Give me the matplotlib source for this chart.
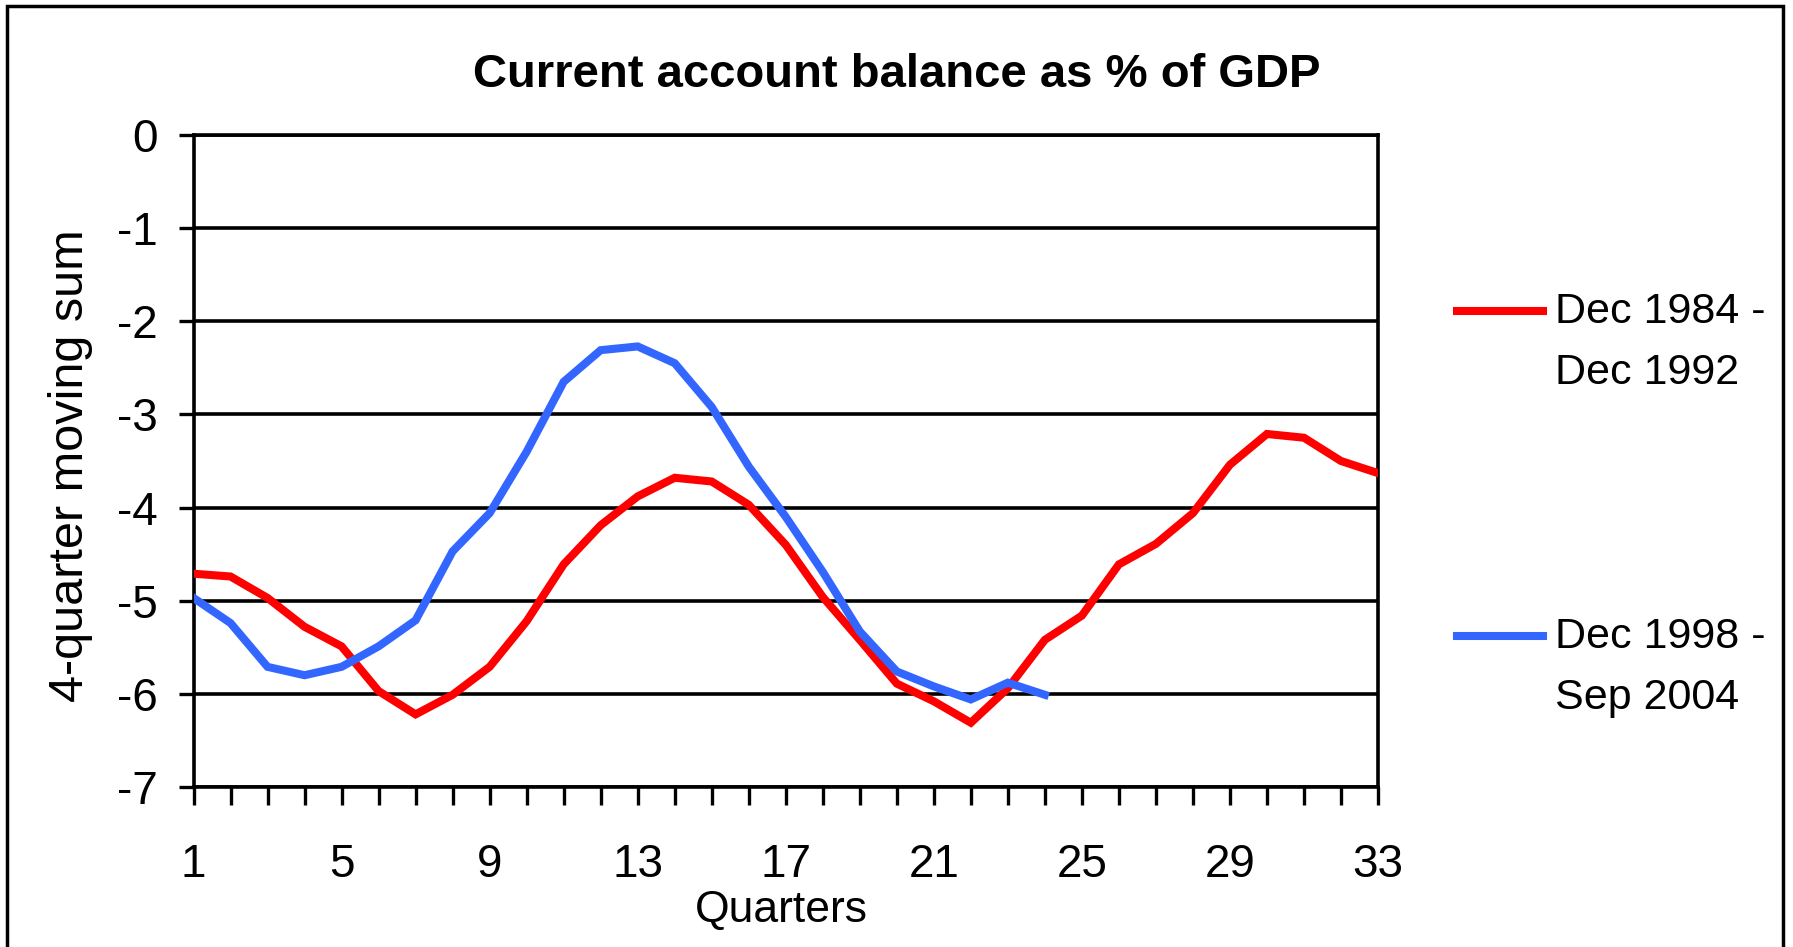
import numpy as np
import matplotlib
matplotlib.use("Agg")
import matplotlib.pyplot as plt
from matplotlib.lines import Line2D
from matplotlib.patches import Rectangle

plt.rcParams['font.family'] = ['Liberation Sans', 'DejaVu Sans']

# quarters and series
quarters = np.arange(1, 34)
red_vals = [-4.71, -4.74, -4.97, -5.28, -5.49, -5.97, -6.22, -6.01, -5.71, -5.22,
            -4.61, -4.19, -3.88, -3.68, -3.72, -3.97, -4.40, -4.96, -5.42, -5.89,
            -6.08, -6.31, -5.94, -5.42, -5.16, -4.61, -4.39, -4.06, -3.54, -3.21,
            -3.25, -3.50, -3.63]
blue_vals = [-4.97, -5.24, -5.71, -5.80, -5.71, -5.49, -5.21, -4.47, -4.06, -3.40,
             -2.65, -2.31, -2.27, -2.45, -2.92, -3.56, -4.10, -4.69, -5.33, -5.76,
             -5.92, -6.06, -5.88, -6.01]
labels = ["Dec 1984 -\nDec 1992", "Dec 1998 -\nSep 2004"]
colors = ["#FF0000", "#3366FF"]
xtick_labels = [1, 5, 9, 13, 17, 21, 25, 29, 33]
ytick_vals = [0, -1, -2, -3, -4, -5, -6, -7]

W, H = 1793, 947
fig = plt.figure(figsize=(W / 100, H / 100), dpi=100)
ax = fig.add_axes([193.5 / W, 1 - 787 / H, (1378 - 193.5) / W, (787 - 135) / H])

series = [red_vals, blue_vals]
for vals, c in zip(series, colors):
    ax.plot(quarters[:len(vals)], vals, color=c, lw=5.8, solid_joinstyle='miter', zorder=3)

ax.set_xlim(1, 33)
ax.set_ylim(-7, 0)
ax.set_xticks(quarters)
ax.set_xticklabels([str(q) if q in xtick_labels else "" for q in quarters])
ax.set_yticks(ytick_vals)
ax.set_yticklabels([str(v) for v in ytick_vals])
ax.tick_params(axis='x', direction='out', length=13, width=2.4, pad=27, labelsize=33)
ax.tick_params(axis='y', direction='out', length=10.5, width=2.4, pad=15, labelsize=33)
ax.grid(axis='y', color='black', lw=2.6, zorder=1)
for s in ax.spines.values():
    s.set_linewidth(2.6)
    s.set_color('black')

fig.text(0.5, 1 - 75 / H, "Current account balance as % of GDP", ha='center', va='center',
         fontsize=34, fontweight='bold')
fig.text(71 / W, 1 - 466 / H, "4-quarter moving sum", rotation=90, ha='center', va='center',
         fontsize=35)
fig.text(781 / W, 1 - 910 / H, "Quarters", ha='center', va='center', fontsize=32)

# legend drawn by hand: handle aligned with first text line
leg_y = [311, 636]
for lab, c, y in zip(labels, colors, leg_y):
    fig.add_artist(Line2D([1457 / W, 1543 / W], [1 - y / H, 1 - y / H], color=c, lw=5.8,
                          transform=fig.transFigure))
    fig.text(1555 / W, 1 - (y - 19) / H, lab, ha='left', va='top', fontsize=31, linespacing=1.68)

# outer frame
fig.add_artist(Rectangle((7 / W, -0.05), (1783 - 7) / W, 1.05 - 6 / H, fill=False,
                         edgecolor='black', lw=2.5, transform=fig.transFigure))

fig.savefig("out.png", dpi=100)
